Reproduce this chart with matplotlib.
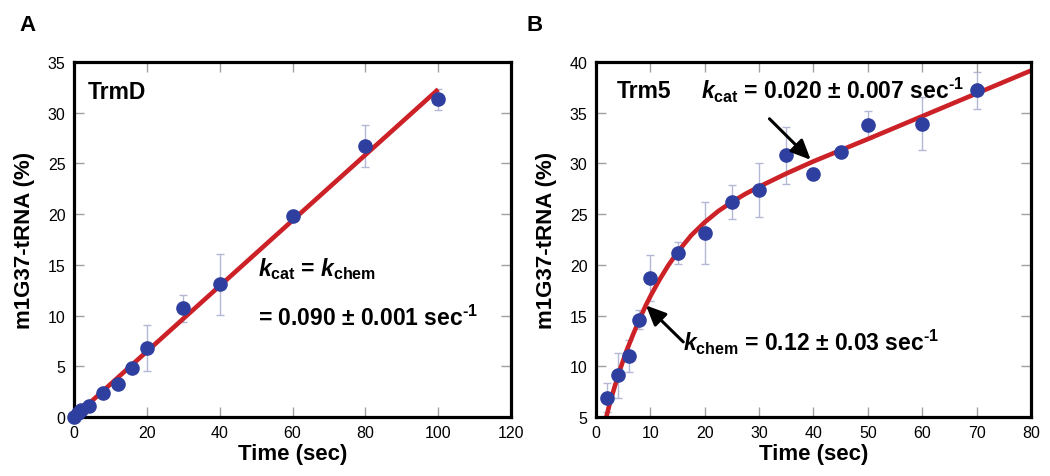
import numpy as np
import matplotlib
matplotlib.use("Agg")
import matplotlib.pyplot as plt

plt.rcParams['font.family'] = ['Liberation Sans', 'DejaVu Sans']
plt.rcParams['mathtext.fontset'] = 'custom'
plt.rcParams['mathtext.rm'] = 'Liberation Sans:bold'
plt.rcParams['mathtext.it'] = 'Liberation Sans:bold:italic'
plt.rcParams['mathtext.bf'] = 'Liberation Sans:bold'

# panel A (TrmD) data
a_time = [0, 1, 2, 4, 8, 12, 16, 20, 30, 40, 60, 80, 100]
a_val = [0.0, 0.4, 0.7, 1.1, 2.4, 3.3, 4.8, 6.8, 10.7, 13.1, 19.8, 26.7, 31.3]
a_err = [0.2, 0.2, 0.2, 0.2, 0.3, 0.3, 0.4, 2.3, 1.3, 3.0, 0.4, 2.1, 1.0]
a_fit_x = [0, 100]
a_fit_y = [0.0, 32.3]

# panel B (Trm5) data
b_time = [2, 4, 6, 8, 10, 15, 20, 25, 30, 35, 40, 45, 50, 60, 70]
b_val = [6.9, 9.1, 11.0, 14.6, 18.7, 21.2, 23.1, 26.2, 27.4, 30.8, 29.0, 31.1, 33.8, 33.9, 37.2]
b_err = [1.45, 2.2, 1.6, 0.9, 2.3, 1.1, 3.05, 1.65, 2.65, 2.8, 0.5, 0.5, 1.4, 2.6, 1.8]
b_fit_x = [1.9, 2.5, 3.0, 3.5, 4.5, 5.6, 6.8, 8.1, 9.2, 10.2, 11.7, 13.3, 15.0, 17.5,
           20.0, 22.5, 25.0, 27.5, 30.0, 35.0, 40.0, 45.0, 50.0, 60.0, 70.0, 80.0]
b_fit_y = [5.0, 6.25, 7.2, 8.1, 9.8, 11.5, 13.1, 14.75, 16.05, 17.1, 18.55, 19.95, 21.25, 22.9,
           24.2, 25.3, 26.2, 27.0, 27.7, 29.0, 30.2, 31.3, 32.4, 34.65, 36.9, 39.15]

blue = '#2F3F9F'
red = '#CC2127'
errc = '#B4B8D4'

fig = plt.figure(figsize=(10.5, 4.77), dpi=100)
axA = fig.add_axes([0.0705, 0.1237, 0.4162, 0.7443])
axB = fig.add_axes([0.5676, 0.1237, 0.4143, 0.7443])

def style(ax):
    for s in ax.spines.values():
        s.set_linewidth(2.3)
    ax.tick_params(direction='in', length=7, width=1, color='#A0A0A0',
                   top=True, right=True, labelsize=11.5, pad=6)
    ax.set_xlabel("Time (sec)", fontsize=16, fontweight='bold', labelpad=2)
    ax.set_ylabel("m1G37-tRNA (%)", fontsize=16, fontweight='bold', labelpad=9)

# panel A
axA.plot(a_fit_x, a_fit_y, color=red, lw=3.3, zorder=2, solid_capstyle='butt')
axA.errorbar(a_time, a_val, yerr=a_err, fmt='none', ecolor=errc, elinewidth=1,
             capsize=3, capthick=1, zorder=1)
axA.plot(a_time, a_val, 'o', color=blue, ms=9.5, zorder=3, clip_on=False)
axA.set_xlim(0, 120)
axA.set_ylim(0, 35)
axA.set_xticks(np.arange(0, 121, 20))
axA.set_yticks(np.arange(0, 36, 5))
style(axA)
axA.text(3.8, 32.1, "TrmD", fontsize=16.5, fontweight='bold', va='center')
axA.text(50.5, 14.0, r"$k_{\mathrm{cat}}$ = $k_{\mathrm{chem}}$", fontsize=16.5,
         fontweight='bold', va='baseline')
axA.text(50.5, 9.1, r"= 0.090 ± 0.001 sec$^{\text{-1}}$", fontsize=16.5,
         fontweight='bold', va='baseline')

# panel B
axB.plot(b_fit_x, b_fit_y, color=red, lw=3.3, zorder=2)
axB.errorbar(b_time, b_val, yerr=b_err, fmt='none', ecolor=errc, elinewidth=1,
             capsize=3, capthick=1, zorder=1)
axB.plot(b_time, b_val, 'o', color=blue, ms=9.5, zorder=3)
axB.set_xlim(0, 80)
axB.set_ylim(5, 40)
axB.set_xticks(np.arange(0, 81, 10))
axB.set_yticks(np.arange(5, 41, 5))
style(axB)
axB.text(3.9, 37.2, "Trm5", fontsize=16.5, fontweight='bold', va='center')
axB.text(19.3, 36.45, r"$k_{\mathrm{cat}}$ = 0.020 ± 0.007 sec$^{\text{-1}}$",
         fontsize=16.5, fontweight='bold', va='baseline')
axB.text(16.0, 11.56, r"$k_{\mathrm{chem}}$ = 0.12 ± 0.03 sec$^{\text{-1}}$",
         fontsize=16.5, fontweight='bold', va='baseline')
arrow = dict(arrowstyle='-|>,head_length=0.4,head_width=0.18', lw=2.2,
             color='black', mutation_scale=30, shrinkA=0, shrinkB=0)
axB.annotate("", xy=(39.5, 30.35), xytext=(31.9, 34.4), arrowprops=arrow)
axB.annotate("", xy=(9.2, 16.0), xytext=(16.05, 12.4), arrowprops=arrow)

fig.text(0.026, 0.947, "A", fontsize=16, fontweight='bold', ha='center', va='center')
fig.text(0.509, 0.947, "B", fontsize=16, fontweight='bold', ha='center', va='center')

fig.savefig("out.png", dpi=100)
